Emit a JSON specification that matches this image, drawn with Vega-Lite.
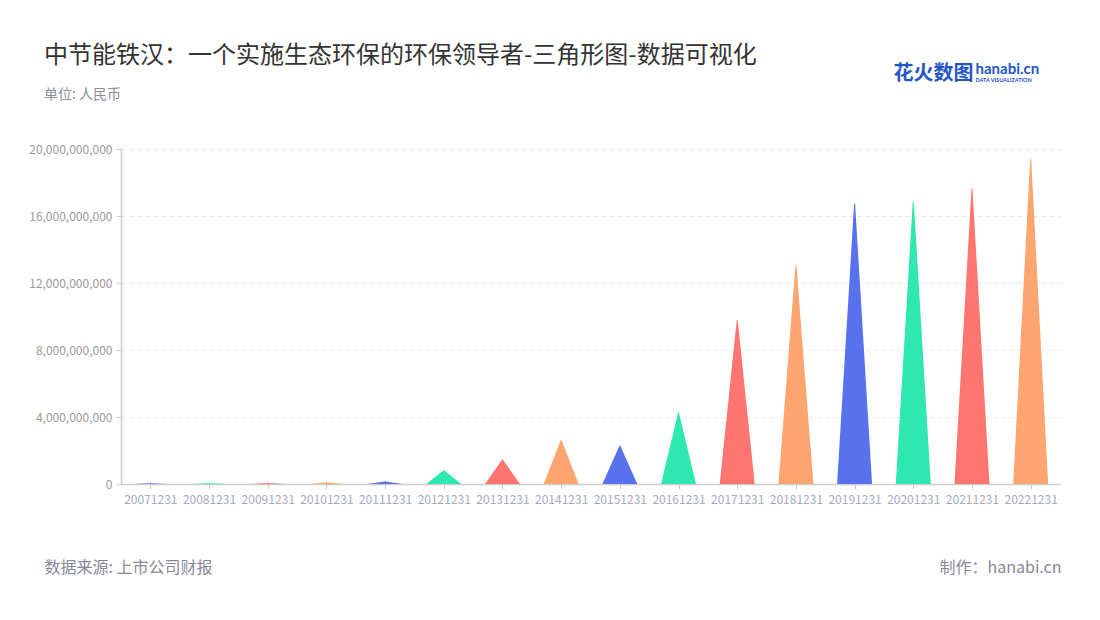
{
  "$schema": "https://vega.github.io/schema/vega-lite/v6.json",
  "width": 939,
  "height": 335,
  "autosize": "none",
  "padding": {"left": 121, "top": 149, "right": 40, "bottom": 136},
  "background": "#ffffff",
  "config": {
    "view": {"stroke": null},
    "font": "Noto Sans CJK SC"
  },
  "title": {
    "text": "中节能铁汉：一个实施生态环保的环保领导者-三角形图-数据可视化",
    "subtitle": "单位: 人民币",
    "anchor": "start",
    "frame": "group",
    "dx": -77,
    "offset": -41,
    "font": "Noto Sans CJK SC",
    "fontSize": 24,
    "fontWeight": "normal",
    "color": "#333333",
    "subtitleFont": "Noto Sans CJK SC",
    "subtitleFontSize": 14,
    "subtitleColor": "#8c8c99",
    "subtitlePadding": 20
  },
  "data": {
    "values": [
      {"year": "20071231", "value": 50000000},
      {"year": "20081231", "value": 50000000},
      {"year": "20091231", "value": 60000000},
      {"year": "20101231", "value": 90000000},
      {"year": "20111231", "value": 150000000},
      {"year": "20121231", "value": 810000000},
      {"year": "20131231", "value": 1450000000},
      {"year": "20141231", "value": 2590000000},
      {"year": "20151231", "value": 2270000000},
      {"year": "20161231", "value": 4240000000},
      {"year": "20171231", "value": 9770000000},
      {"year": "20181231", "value": 13030000000},
      {"year": "20191231", "value": 16720000000},
      {"year": "20201231", "value": 16840000000},
      {"year": "20211231", "value": 17610000000},
      {"year": "20221231", "value": 19400000000}
    ]
  },
  "layer": [
    {
      "transform": [
        {"joinaggregate": [{"op": "missing", "field": "value", "as": "base"}]},
        {"fold": ["base", "value"], "as": ["part", "amount"]}
      ],
      "mark": {"type": "trail", "clip": true},
      "encoding": {
        "x": {
          "field": "year",
          "type": "nominal",
          "sort": null,
          "axis": {
            "orient": "bottom",
            "title": "数据来源: 上市公司财报",
            "titleFont": "Noto Sans CJK SC",
            "titleFontSize": 16,
            "titleFontWeight": "normal",
            "titleColor": "#888899",
            "titleAnchor": "start",
            "titleAlign": "left",
            "titleBaseline": "middle",
            "titleX": -77,
            "titleY": 83,
            "labelAngle": 0,
            "labelOverlap": false,
            "labelFont": "Noto Sans CJK SC",
            "labelFontSize": 12,
            "labelColor": "#a6abbb",
            "labelPadding": 5,
            "domainColor": "#cccccc",
            "domainWidth": 1.5,
            "tickColor": "#cccccc",
            "tickSize": 5,
            "grid": false
          }
        },
        "y": {
          "field": "amount",
          "type": "quantitative",
          "scale": {"domain": [0, 20000000000], "nice": false},
          "axis": {
            "orient": "left",
            "values": [0, 4000000000, 8000000000, 12000000000, 16000000000, 20000000000],
            "format": ",d",
            "labelFont": "Noto Sans CJK SC",
            "labelFontSize": 12,
            "labelColor": "#999999",
            "labelPadding": 4,
            "domain": true,
            "domainColor": "#cccccc",
            "domainWidth": 1.5,
            "tickColor": "#cccccc",
            "tickSize": 5,
            "grid": true,
            "gridColor": "#e3e3e3",
            "gridDash": [4, 4],
            "gridWidth": 1,
            "title": "制作：hanabi.cn",
            "titleAngle": 0,
            "titleFont": "Noto Sans CJK SC",
            "titleFontSize": 16,
            "titleFontWeight": "normal",
            "titleColor": "#888899",
            "titleAlign": "right",
            "titleBaseline": "middle",
            "titleX": 940,
            "titleY": 418
          }
        },
        "size": {
          "field": "part",
          "type": "nominal",
          "scale": {"domain": ["base", "value"], "range": [35, 0], "padding": 0},
          "legend": null
        },
        "color": {
          "field": "year",
          "type": "nominal",
          "scale": {"range": ["#5872ee", "#2ee8b0", "#ff7670", "#ffa570"]},
          "legend": null
        },
        "order": {"field": "amount", "type": "quantitative"}
      }
    },
    {
      "mark": {"type": "point", "opacity": 0},
      "encoding": {
        "x": {
          "field": "year",
          "type": "nominal",
          "sort": null,
          "axis": {
            "orient": "top",
            "labels": false,
            "ticks": false,
            "domain": false,
            "grid": false,
            "title": "花火数图",
            "titleFont": "Noto Sans CJK SC",
            "titleFontSize": 20,
            "titleFontWeight": "bold",
            "titleColor": "#2556c4",
            "titleAnchor": "start",
            "titleAlign": "left",
            "titleBaseline": "middle",
            "titleX": 772,
            "titleY": -76
          }
        },
        "y": {
          "field": "value",
          "type": "quantitative",
          "axis": {
            "orient": "right",
            "labels": false,
            "ticks": false,
            "domain": false,
            "grid": false,
            "title": "hanabi.cn",
            "titleAngle": 0,
            "titleFont": "Lato",
            "titleFontSize": 15,
            "titleFontWeight": "bold",
            "titleColor": "#2556c4",
            "titleAlign": "left",
            "titleBaseline": "middle",
            "titleX": -85,
            "titleY": -81
          }
        }
      }
    },
    {
      "mark": {"type": "point", "opacity": 0},
      "encoding": {
        "x": {
          "field": "year",
          "type": "nominal",
          "sort": null,
          "axis": {
            "orient": "top",
            "labels": false,
            "ticks": false,
            "domain": false,
            "grid": false,
            "title": "DATA VISUALIZATION",
            "titleFont": "Lato",
            "titleFontSize": 5.5,
            "titleFontWeight": "bold",
            "titleColor": "#2556c4",
            "titleAnchor": "start",
            "titleAlign": "left",
            "titleBaseline": "middle",
            "titleX": 854,
            "titleY": -70
          }
        },
        "y": {"field": "value", "type": "quantitative", "axis": null}
      }
    }
  ],
  "resolve": {"axis": {"x": "independent", "y": "independent"}}
}
